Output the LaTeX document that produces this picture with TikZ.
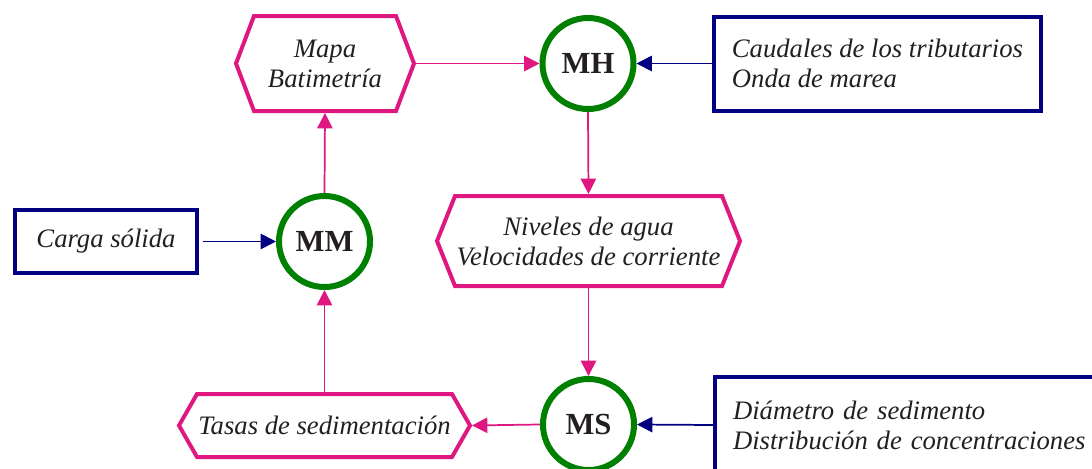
\documentclass[tikz,border=0pt]{standalone}
\usepackage{fontspec}
\setmainfont{Liberation Serif}
\usetikzlibrary{arrows.meta}
\definecolor{pk}{RGB}{222,24,128}
\definecolor{gr}{RGB}{0,128,0}
\definecolor{nv}{RGB}{0,0,128}
\definecolor{tx}{RGB}{35,31,32}
\begin{document}
\begin{tikzpicture}[x=0.75pt,y=-0.75pt,
 txt/.style={font=\fontsize{20}{22.5}\selectfont\itshape, text=tx},
 hexbox/.style={txt, inner sep=0pt, outer sep=0pt, align=center},
 hexline/.style={draw=pk, line width=3pt, line join=miter},
 model/.style={circle, draw=gr, line width=4.5pt, minimum size=68.25pt, inner sep=0pt, font=\fontsize{23}{23}\selectfont\bfseries, text=tx},
 inbox/.style={txt, draw=nv, line width=3pt, inner xsep=13.5pt, inner ysep=0pt},
 pkarrow/.style={draw=pk, line width=1.3pt, -{Triangle[length=11.5pt,width=11.5pt]}},
 nvarrow/.style={draw=nv, line width=1.3pt, -{Triangle[length=11.5pt,width=11.5pt]}},
]
\path[use as bounding box] (0,0) rectangle (1092,468);
\clip (0,0) rectangle (1092,468);

% hexagon nodes
\node[hexbox, minimum width=133.5pt, minimum height=71.25pt] (mapa) at (325,63.5) {Mapa\\Batimetría};
\node[hexbox, minimum width=227.25pt, minimum height=67.5pt] (niv) at (588.5,241) {Niveles de agua\\Velocidades de corriente};
\node[hexbox, minimum width=218.25pt, minimum height=47.25pt] (tasas) at (324.5,425.5) {Tasas de sedimentación};
\foreach \n in {mapa,niv,tasas}{
  \draw[hexline] (\n.west) -- ([xshift=13.5pt]\n.north west) -- ([xshift=-13.5pt]\n.north east)
    -- (\n.east) -- ([xshift=-13.5pt]\n.south east) -- ([xshift=13.5pt]\n.south west) -- cycle;
}

% model circles
\node[model] (mh) at (588,63.5) {MH};
\node[model] (mm) at (324.5,241.5) {MM};
\node[model] (ms) at (588.5,424.5) {MS};

% input boxes
\node[inbox, align=left, minimum width=243.75pt, minimum height=70.5pt] (caud) at (877.5,63.5) {Caudales de los tributarios\\Onda de marea};
\node[inbox, align=center, minimum width=136.5pt, minimum height=47.25pt] (carga) at (106,241.5) {Carga sólida};
\node[inbox, align=left, text width=269.25pt, minimum height=72pt, anchor=north west] (diam) at (713,375) {Diámetro de sedimento\\Distribución de concentraciones};

% connectors
\draw[pkarrow] (mapa.east) -- (mh.west);
\draw[nvarrow] (caud.west) -- (mh.east);
\draw[pkarrow, shorten >=1.5pt] (mh.south) -- (niv.north);
\draw[pkarrow] (niv.south) -- (ms.north);
\draw[nvarrow] (diam.west) -- (ms.east);
\draw[pkarrow, shorten >=1.5pt] (ms.west) -- (tasas.east);
\draw[pkarrow] (tasas.north) -- (mm.south);
\draw[nvarrow, shorten <=3pt] (carga.east) -- (mm.west);
\draw[pkarrow, shorten >=1.5pt] (mm.north) -- (mapa.south);
\end{tikzpicture}
\end{document}
